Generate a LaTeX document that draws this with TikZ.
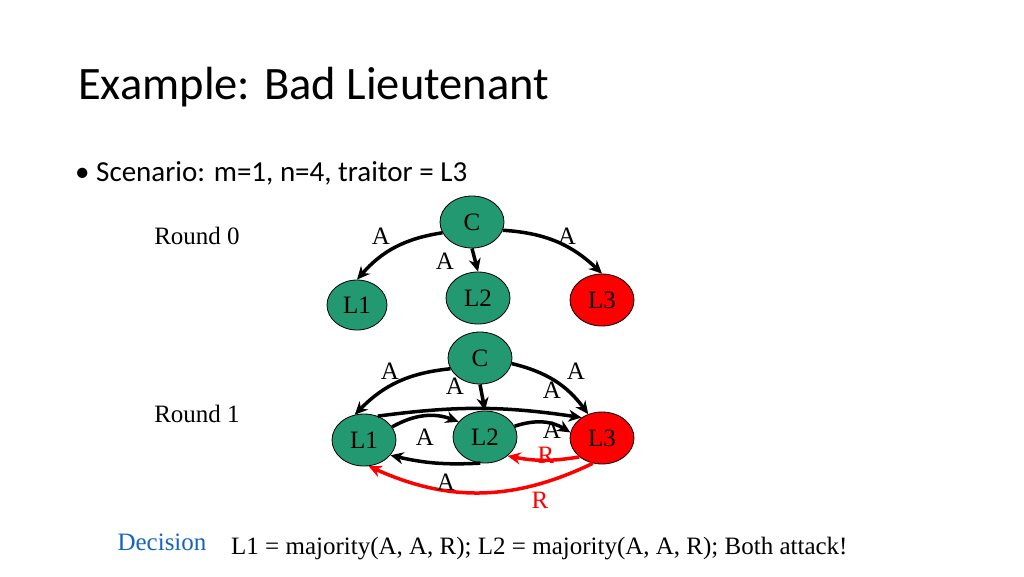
\documentclass[tikz,border=0pt]{standalone}
\usepackage{fontspec}
\setmainfont{Liberation Serif}
\newfontfamily\calib{Carlito}
\usetikzlibrary{shapes.geometric,arrows.meta}
\definecolor{gr}{RGB}{34,153,112}
\definecolor{dblue}{RGB}{20,100,190}
\begin{document}
\begin{tikzpicture}[x=1pt,y=-1pt,
  ell/.style={ellipse,draw=black,line width=0.8pt,fill=gr,inner sep=0pt,minimum width=64pt,minimum height=52pt,font=\fontsize{25}{27}\selectfont},
  red ell/.style={ell,fill=red},
  ar/.style={-{Stealth[length=13pt,width=12pt]},line width=3.5pt},
  rar/.style={ar,red},
  lab/.style={font=\fontsize{25}{27}\selectfont,inner sep=0pt}]
\path[use as bounding box] (0,0) rectangle (1024,576);
\node[anchor=west,font=\calib\fontsize{46.5}{50}\selectfont,inner sep=0pt] (title) at (78,87) {Example: Bad Lieutenant};
\node[anchor=west,font=\calib\fontsize{29}{31}\selectfont,inner sep=0pt] (bul) at (75,173) {\textbullet\ Scenario: m=1, n=4, traitor = L3};
\node[lab] (r0) at (197,236) {Round 0};
\node[lab] (r1) at (197,414) {Round 1};
% round 0
\node[ell] (c0) at (472,222) {C};
\node[ell,minimum width=60pt,minimum height=50pt] (a0) at (357,305) {L1};
\node[ell] (b0) at (478,298) {L2};
\node[red ell] (d0) at (602,300) {L3};
\draw[ar] (c0.200) to[bend right=20] (a0.north);
\draw[ar] (c0.south) -- (b0.north);
\draw[ar] (c0.-15) to[bend left=20] (d0.north);
\node[lab] (t1) at (381,236) {A};
\node[lab] (t2) at (445,261) {A};
\node[lab] (t3) at (567,236) {A};
% round 1
\node[ell] (c1) at (480,358) {C};
\node[ell] (a1) at (364,440) {L1};
\node[ell] (b1) at (485,437) {L2};
\node[red ell] (d1) at (602,438) {L3};
\draw[ar] (c1.200) to[bend right=20] (a1.110);
\draw[ar] (c1.south) -- (b1.north);
\draw[ar] (c1.-10) to[bend left=20] (d1.120);
\draw[ar] (a1.60) to[bend left=8] (d1.135);
\draw[ar] (a1.25) to[bend left=25] (b1.150);
\draw[ar] (b1.20) to[bend left=25] (d1.170);
\draw[ar] (b1.-100) to[bend left=8] (a1.-30);
\draw[rar] (d1.-140) to[bend left=10] (b1.-40);
\draw[rar] (d1.-110) to[bend left=25] (a1.-80);
\node[lab] (u1) at (390,371) {A};
\node[lab] (u2) at (455,386) {A};
\node[lab] (u3) at (576,371) {A};
\node[lab] (u4) at (552,390) {A};
\node[lab] (u5) at (425,437) {A};
\node[lab] (u6) at (552,430) {A};
\node[lab] (u7) at (446,482) {A};
\node[lab,red] (u8) at (546,455) {R};
\node[lab,red] (u9) at (540,500) {R};
\node[lab,dblue] (dec) at (162,542) {Decision};
\node[lab,anchor=west] (res) at (231,549) {L1 = majority(A, A, R); L2 = majority(A, A, R); Both attack!};
\end{tikzpicture}
\end{document}
